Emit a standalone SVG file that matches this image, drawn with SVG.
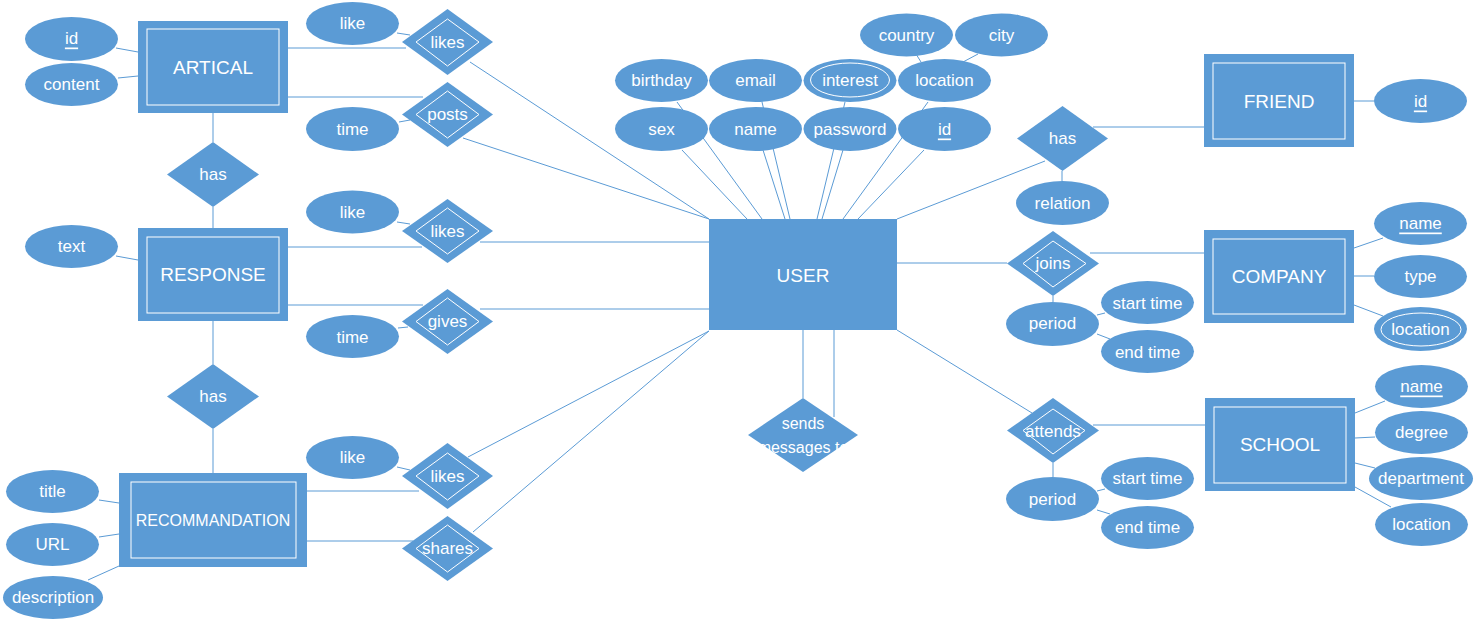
<svg xmlns="http://www.w3.org/2000/svg" width="1477" height="621" viewBox="0 0 1477 621">
<style>
.c line{stroke:#5B9BD5;stroke-width:1}
.f{fill:#5B9BD5}
.in{fill:none;stroke:#FFFFFF;stroke-width:1}
text{font-family:"Liberation Sans",Arial,sans-serif;fill:#FFFFFF;text-anchor:middle;dominant-baseline:central;font-size:17px}
.e{font-size:19px}
.u{text-decoration:underline}
</style>
<rect width="1477" height="621" fill="#FFFFFF"/>
<g id="connectors" class="c">
<line x1="116" y1="48" x2="138" y2="52"/>
<line x1="118" y1="78" x2="138" y2="76"/>
<line x1="288" y1="48" x2="406" y2="48"/>
<line x1="397" y1="33" x2="410" y2="35"/>
<line x1="288" y1="97" x2="423" y2="97"/>
<line x1="399" y1="122" x2="410" y2="120"/>
<line x1="213" y1="113" x2="213" y2="142"/>
<line x1="213" y1="207" x2="213" y2="228"/>
<line x1="116" y1="256" x2="138" y2="260"/>
<line x1="288" y1="247" x2="422" y2="247"/>
<line x1="397" y1="222" x2="410" y2="224"/>
<line x1="288" y1="305" x2="423" y2="305"/>
<line x1="398" y1="328" x2="408" y2="327"/>
<line x1="213" y1="321" x2="213" y2="364"/>
<line x1="213" y1="429" x2="213" y2="473"/>
<line x1="99" y1="500" x2="119" y2="503"/>
<line x1="99" y1="537" x2="119" y2="534"/>
<line x1="88" y1="580" x2="119" y2="566"/>
<line x1="307" y1="491" x2="419" y2="491"/>
<line x1="397" y1="467" x2="410" y2="470"/>
<line x1="307" y1="541" x2="413" y2="541"/>
<line x1="470" y1="62" x2="709" y2="219"/>
<line x1="463" y1="138" x2="709" y2="219"/>
<line x1="480" y1="242" x2="709" y2="242"/>
<line x1="480" y1="309" x2="709" y2="309"/>
<line x1="468" y1="457" x2="709" y2="331"/>
<line x1="473" y1="532" x2="709" y2="331"/>
<line x1="677" y1="102" x2="762" y2="219"/>
<line x1="682" y1="150" x2="747" y2="219"/>
<line x1="762" y1="102" x2="790" y2="219"/>
<line x1="763" y1="150" x2="785" y2="219"/>
<line x1="845" y1="102" x2="817" y2="219"/>
<line x1="843" y1="150" x2="822" y2="219"/>
<line x1="928" y1="102" x2="843" y2="219"/>
<line x1="924" y1="150" x2="858" y2="219"/>
<line x1="916" y1="54" x2="921" y2="62"/>
<line x1="978" y1="54" x2="963" y2="62"/>
<line x1="897" y1="219" x2="1045" y2="161"/>
<line x1="1062" y1="171" x2="1062" y2="181"/>
<line x1="1093" y1="127" x2="1204" y2="127"/>
<line x1="1354" y1="101" x2="1374" y2="101"/>
<line x1="897" y1="263" x2="1007" y2="263"/>
<line x1="1090" y1="253" x2="1204" y2="253"/>
<line x1="1053" y1="296" x2="1053" y2="302"/>
<line x1="1097" y1="315" x2="1105" y2="313"/>
<line x1="1097" y1="334" x2="1110" y2="339"/>
<line x1="1354" y1="248" x2="1383" y2="238"/>
<line x1="1354" y1="276" x2="1374" y2="276"/>
<line x1="1354" y1="305" x2="1383" y2="316"/>
<line x1="897" y1="330" x2="1032" y2="413"/>
<line x1="1093" y1="425" x2="1205" y2="425"/>
<line x1="1053" y1="463" x2="1053" y2="477"/>
<line x1="1097" y1="491" x2="1105" y2="489"/>
<line x1="1097" y1="510" x2="1110" y2="514"/>
<line x1="1355" y1="413" x2="1385" y2="401"/>
<line x1="1355" y1="438" x2="1375" y2="437"/>
<line x1="1355" y1="463" x2="1375" y2="468"/>
<line x1="1355" y1="487" x2="1391" y2="507"/>
<line x1="803" y1="330" x2="803" y2="398"/>
<line x1="834" y1="330" x2="834" y2="417"/>
</g>

<!-- Entities -->
<g id="artical"><rect class="f" x="138" y="21" width="150" height="92"/><rect class="in" x="147" y="29" width="132" height="76"/><text class="e" x="213" y="67">ARTICAL</text></g>
<g id="response"><rect class="f" x="138" y="228" width="150" height="93"/><rect class="in" x="147" y="237" width="132" height="76"/><text class="e" x="213" y="274">RESPONSE</text></g>
<g id="recommandation"><rect class="f" x="119" y="473" width="188" height="94"/><rect class="in" x="131" y="482" width="165" height="76"/><text x="213" y="520" style="font-size:16px">RECOMMANDATION</text></g>
<g id="user"><rect class="f" x="709" y="219" width="188" height="111"/><text class="e" x="803" y="275">USER</text></g>
<g id="friend"><rect class="f" x="1204" y="54" width="150" height="93"/><rect class="in" x="1213" y="63" width="132" height="76"/><text class="e" x="1279" y="101">FRIEND</text></g>
<g id="company"><rect class="f" x="1204" y="230" width="150" height="93"/><rect class="in" x="1213" y="239" width="132" height="75"/><text class="e" x="1279" y="276">COMPANY</text></g>
<g id="school"><rect class="f" x="1205" y="398" width="150" height="93"/><rect class="in" x="1214" y="407" width="132" height="76"/><text class="e" x="1280" y="444">SCHOOL</text></g>

<!-- Relationships -->
<g id="rel-likes-artical"><polygon class="f" points="447.5,9 493,42 447.5,75 402,42"/><polygon class="in" points="447.5,19 479,42 447.5,66 416,42"/><text x="447.5" y="42">likes</text></g>
<g id="rel-posts"><polygon class="f" points="447.5,82 493,114.5 447.5,147 402,114.5"/><polygon class="in" points="447.5,91 479,114.5 447.5,138 416,114.5"/><text x="447.5" y="114">posts</text></g>
<g id="rel-has-1"><polygon class="f" points="213,142 259,174.5 213,207 167,174.5"/><text x="213" y="174">has</text></g>
<g id="rel-likes-response"><polygon class="f" points="447.5,199 493,231 447.5,263 402,231"/><polygon class="in" points="447.5,208 479,231 447.5,254 416,231"/><text x="447.5" y="231">likes</text></g>
<g id="rel-gives"><polygon class="f" points="447.5,289 493,321.5 447.5,354 402,321.5"/><polygon class="in" points="447.5,298 479,321.5 447.5,345 416,321.5"/><text x="447.5" y="321">gives</text></g>
<g id="rel-has-2"><polygon class="f" points="213,364 259,396.5 213,429 167,396.5"/><text x="213" y="396">has</text></g>
<g id="rel-likes-recom"><polygon class="f" points="447.5,443 493,476 447.5,509 402,476"/><polygon class="in" points="447.5,453 479,476 447.5,500 416,476"/><text x="447.5" y="476">likes</text></g>
<g id="rel-shares"><polygon class="f" points="447.5,516 493,548.5 447.5,581 402,548.5"/><polygon class="in" points="447.5,525 479,548.5 447.5,572 416,548.5"/><text x="447.5" y="548">shares</text></g>
<g id="rel-sends"><polygon class="f" points="803,398 858,435 803,472 748,435"/><text x="803" y="423" style="font-size:16px">sends</text><text x="803" y="447" style="font-size:16px">messages to</text></g>
<g id="rel-has-friend"><polygon class="f" points="1062.5,106 1108,138.5 1062.5,171 1017,138.5"/><text x="1062.5" y="138">has</text></g>
<g id="rel-joins"><polygon class="f" points="1053,231 1099,263.5 1053,296 1007,263.5"/><polygon class="in" points="1053,241 1086,263.5 1053,287 1023,263.5"/><text x="1053" y="263">joins</text></g>
<g id="rel-attends"><polygon class="f" points="1053,398 1099,430.5 1053,463 1007,430.5"/><polygon class="in" points="1053,409 1085,430.5 1053,454 1023,430.5"/><text x="1053" y="431">attends</text></g>

<!-- Attributes -->
<g id="a-art-id"><ellipse class="f" cx="71.5" cy="39" rx="46.5" ry="22"/><text class="u" x="71.5" y="38">id</text></g>
<g id="a-art-content"><ellipse class="f" cx="71.5" cy="84.5" rx="46.5" ry="21.5"/><text x="71.5" y="84">content</text></g>
<g id="a-like-1"><ellipse class="f" cx="352.5" cy="23.5" rx="46.5" ry="21.5"/><text x="352.5" y="23">like</text></g>
<g id="a-time-1"><ellipse class="f" cx="352.5" cy="129" rx="46.5" ry="22"/><text x="352.5" y="129">time</text></g>
<g id="a-text"><ellipse class="f" cx="71.5" cy="246.5" rx="46.5" ry="21.5"/><text x="71.5" y="246">text</text></g>
<g id="a-like-2"><ellipse class="f" cx="352.5" cy="212" rx="46.5" ry="21.5"/><text x="352.5" y="212">like</text></g>
<g id="a-time-2"><ellipse class="f" cx="352.5" cy="336.5" rx="46.5" ry="21.5"/><text x="352.5" y="337">time</text></g>
<g id="a-title"><ellipse class="f" cx="52.5" cy="491.5" rx="46.5" ry="21.5"/><text x="52.5" y="491">title</text></g>
<g id="a-url"><ellipse class="f" cx="52.5" cy="544.5" rx="46.5" ry="21.5"/><text x="52.5" y="544">URL</text></g>
<g id="a-description"><ellipse class="f" cx="53" cy="597.5" rx="50" ry="21.5"/><text x="53" y="597">description</text></g>
<g id="a-like-3"><ellipse class="f" cx="352.5" cy="457.5" rx="46.5" ry="21.5"/><text x="352.5" y="457">like</text></g>
<g id="a-birthday"><ellipse class="f" cx="661.5" cy="80.5" rx="46.5" ry="21.5"/><text x="661.5" y="80">birthday</text></g>
<g id="a-email"><ellipse class="f" cx="755.5" cy="80.5" rx="46.5" ry="21.5"/><text x="755.5" y="80">email</text></g>
<g id="a-interest"><ellipse class="f" cx="850" cy="80.5" rx="46.5" ry="21.5"/><ellipse class="in" cx="850" cy="80" rx="39.5" ry="17"/><text x="850" y="80">interest</text></g>
<g id="a-location"><ellipse class="f" cx="944.5" cy="80.5" rx="46.5" ry="21.5"/><text x="944.5" y="80">location</text></g>
<g id="a-country"><ellipse class="f" cx="906.5" cy="35" rx="46.5" ry="21.5"/><text x="906.5" y="35">country</text></g>
<g id="a-city"><ellipse class="f" cx="1001.5" cy="35" rx="46.5" ry="21.5"/><text x="1001.5" y="35">city</text></g>
<g id="a-sex"><ellipse class="f" cx="661.5" cy="129" rx="46.5" ry="22"/><text x="661.5" y="129">sex</text></g>
<g id="a-name"><ellipse class="f" cx="755.5" cy="129" rx="46.5" ry="22"/><text x="755.5" y="129">name</text></g>
<g id="a-password"><ellipse class="f" cx="850" cy="129" rx="46.5" ry="22"/><text x="850" y="129">password</text></g>
<g id="a-user-id"><ellipse class="f" cx="944.5" cy="129" rx="46.5" ry="22"/><text class="u" x="944.5" y="129">id</text></g>
<g id="a-relation"><ellipse class="f" cx="1062.5" cy="203" rx="46.5" ry="22"/><text x="1062.5" y="203">relation</text></g>
<g id="a-friend-id"><ellipse class="f" cx="1420.5" cy="101" rx="46.5" ry="22"/><text class="u" x="1420.5" y="101">id</text></g>
<g id="a-period-1"><ellipse class="f" cx="1052.5" cy="324" rx="46.5" ry="22"/><text x="1052.5" y="323">period</text></g>
<g id="a-start-1"><ellipse class="f" cx="1147.5" cy="302.5" rx="46.5" ry="21.5"/><text x="1147.5" y="303">start time</text></g>
<g id="a-end-1"><ellipse class="f" cx="1147.5" cy="351.5" rx="46.5" ry="21.5"/><text x="1147.5" y="352">end time</text></g>
<g id="a-comp-name"><ellipse class="f" cx="1420.5" cy="223.5" rx="46.5" ry="21.5"/><text class="u" x="1420.5" y="223">name</text></g>
<g id="a-comp-type"><ellipse class="f" cx="1420.5" cy="276.5" rx="46.5" ry="21.5"/><text x="1420.5" y="276">type</text></g>
<g id="a-comp-location"><ellipse class="f" cx="1420.5" cy="329" rx="46.5" ry="22"/><ellipse class="in" cx="1421" cy="329.5" rx="40" ry="16.5"/><text x="1420.5" y="329">location</text></g>
<g id="a-period-2"><ellipse class="f" cx="1052.5" cy="499" rx="46.5" ry="22"/><text x="1052.5" y="499">period</text></g>
<g id="a-start-2"><ellipse class="f" cx="1147.5" cy="478.5" rx="46.5" ry="21.5"/><text x="1147.5" y="478">start time</text></g>
<g id="a-end-2"><ellipse class="f" cx="1147.5" cy="527.5" rx="46.5" ry="21.5"/><text x="1147.5" y="527">end time</text></g>
<g id="a-school-name"><ellipse class="f" cx="1421.5" cy="386.5" rx="46.5" ry="21.5"/><text class="u" x="1421.5" y="386">name</text></g>
<g id="a-degree"><ellipse class="f" cx="1421.5" cy="432.5" rx="46.5" ry="21.5"/><text x="1421.5" y="432">degree</text></g>
<g id="a-department"><ellipse class="f" cx="1421" cy="478.5" rx="52" ry="21.5"/><text x="1421" y="478">department</text></g>
<g id="a-school-location"><ellipse class="f" cx="1421.5" cy="524.5" rx="46.5" ry="21.5"/><text x="1421.5" y="524">location</text></g>
</svg>
